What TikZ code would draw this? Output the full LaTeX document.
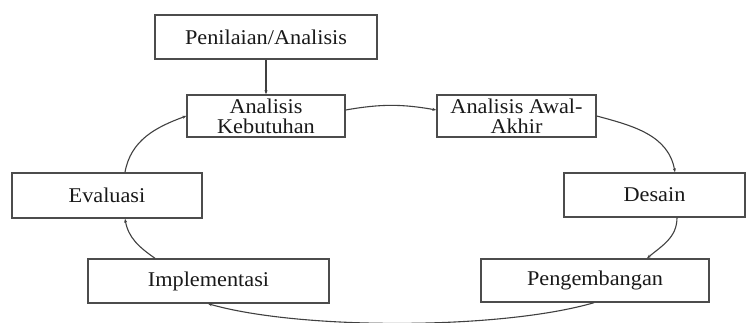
\documentclass[tikz,border=0pt]{standalone}
\usepackage{fontspec}
\setmainfont{Liberation Serif}[FakeStretch=1.06]
\usetikzlibrary{arrows.meta}

\begin{document}
\begin{tikzpicture}[
        x=1pt, y=-1pt,
        box/.style={draw=black!70, line width=1.4pt, rectangle, align=center, inner sep=0pt,
            font=\fontsize{21}{20}\selectfont, text=black!90},
        flow/.style={draw=black!75, line width=1.1pt, -{Stealth[length=4pt,width=3pt]}},
    ]
    \useasboundingbox (0,0) rectangle (748,323);

    \node[box, minimum width=222pt, minimum height=44pt](penilaian) at (266,37) {Penilaian/Analisis};
    \node[box, minimum width=158pt, minimum height=42pt](kebutuhan) at (266,116) {Analisis\\Kebutuhan};
    \node[box, minimum width=159pt, minimum height=42pt](awal) at (516.5,116) {Analisis Awal-\\Akhir};
    \node[box, minimum width=190pt, minimum height=45pt](evaluasi) at (107,195.5) {Evaluasi};
    \node[box, minimum width=181pt, minimum height=44pt](desain) at (654.5,195) {Desain};
    \node[box, minimum width=241pt, minimum height=44pt](implementasi) at (208.5,281) {Implementasi};
    \node[box, minimum width=228pt, minimum height=43pt](pengembangan) at (595,280.5) {Pengembangan};

    \draw[flow] (penilaian) -- (kebutuhan);
    \draw[flow] (kebutuhan.east |- 0,110) to[out=10, in=170] (awal.west |- 0,110);
    \draw[flow] (awal.east) to[out=-15, in=100] (desain.north -| 675,0);
    \draw[flow] (desain.south -| 677,0) to[out=-90, in=40] (pengembangan.north -| 647,0);
    \draw[flow] (pengembangan.south -| 594,0) .. controls (500,330) and (300,330) .. (implementasi.south -| 208,0);
    \draw[flow] (implementasi.north -| 155,0) to[out=145, in=-80] (evaluasi.south -| 125,0);
    \draw[flow] (evaluasi.north -| 125,0) to[out=80, in=-160] (kebutuhan.west |- 0,116);

\end{tikzpicture}
\end{document}
